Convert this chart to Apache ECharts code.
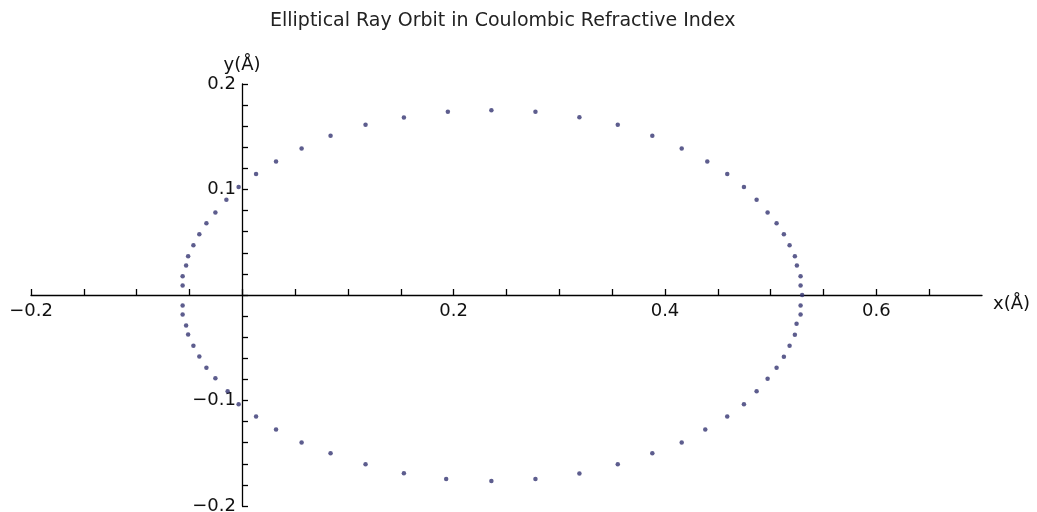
<!DOCTYPE html>
<html>
<head>
<meta charset="utf-8">
<script src="https://cdn.jsdelivr.net/npm/echarts@6/dist/echarts.min.js"></script>
<style>
html,body{margin:0;padding:0;background:#fff;}
#chart{width:1037px;height:512px;}
</style>
</head>
<body>
<div id="chart"></div>
<script>
const titleText = 'Elliptical Ray Orbit in Coulombic Refractive Index';
const upperX = [-0.0565,-0.0565,-0.0532,-0.0513,-0.0463,-0.0407,-0.0340,-0.0255,-0.0151,-0.0035,0.0130,0.0319,0.0561,0.0835,0.1166,0.1529,0.1945,0.2357,0.2774,0.3190,0.3553,0.3880,0.4158,0.4400,0.4589,0.4747,0.4867,0.4971,0.5056,0.5125,0.5179,0.5229,0.5248,0.5283,0.5283,0.5298];
const upperY = [0.0090,0.0178,0.0279,0.0367,0.0471,0.0575,0.0679,0.0783,0.0904,0.1024,0.1147,0.1266,0.1389,0.1509,0.1613,0.1682,0.1736,0.1752,0.1736,0.1686,0.1613,0.1509,0.1389,0.1266,0.1147,0.1024,0.0904,0.0783,0.0679,0.0575,0.0471,0.0367,0.0279,0.0178,0.0090,0.0000];
const lowerX = [-0.0565,-0.0565,-0.0532,-0.0513,-0.0463,-0.0407,-0.0340,-0.0255,-0.0139,-0.0035,0.0130,0.0319,0.0561,0.0835,0.1166,0.1529,0.1929,0.2357,0.2774,0.3190,0.3553,0.3880,0.4158,0.4381,0.4589,0.4747,0.4867,0.4971,0.5056,0.5125,0.5179,0.5229,0.5245,0.5283,0.5283];
const lowerY = [-0.0099,-0.0184,-0.0289,-0.0374,-0.0481,-0.0582,-0.0689,-0.0790,-0.0913,-0.1036,-0.1152,-0.1275,-0.1398,-0.1500,-0.1604,-0.1689,-0.1743,-0.1762,-0.1743,-0.1692,-0.1604,-0.1500,-0.1398,-0.1275,-0.1152,-0.1036,-0.0913,-0.0793,-0.0689,-0.0585,-0.0481,-0.0376,-0.0272,-0.0184,-0.0099];
const xLabelValues = [-0.2, 0.2, 0.4, 0.6];
const yLabelValues = [-0.2, -0.1, 0.1, 0.2];
const xTickValues = [-0.2,-0.15,-0.1,-0.05,0,0.05,0.1,0.15,0.2,0.25,0.3,0.35,0.4,0.45,0.5,0.55,0.6,0.65];
const yTickValues = [-0.2,-0.18,-0.16,-0.14,-0.12,-0.1,-0.08,-0.06,-0.04,-0.02,0,0.02,0.04,0.06,0.08,0.1,0.12,0.14,0.16,0.18,0.2];

const points = upperX.map((x, i) => [x, upperY[i]]).concat(lowerX.map((x, i) => [x, lowerY[i]]));

function fmt(v) {
  const s = Math.abs(v).toFixed(1);
  return v < 0 ? '\u2212' + s : s;
}

const FONT = 'DejaVu Sans';
const chart = echarts.init(document.getElementById('chart'), null, {renderer: 'canvas'});
chart.setOption({
  animation: false,
  backgroundColor: '#ffffff',
  title: {
    text: titleText,
    left: 270,
    top: 12,
    padding: 0,
    textStyle: {fontFamily: FONT, fontSize: 19, fontWeight: 'normal', color: '#222'}
  },
  grid: {left: 31, right: 55, top: 84, bottom: 6, containLabel: false, outerBoundsMode: 'none'},
  xAxis: {
    type: 'value',
    position: 'bottom',
    offset: -211,
    min: -0.2,
    max: 0.7,
    interval: 0.05,
    name: 'x(\u00C5)',
    nameLocation: 'end',
    nameGap: 11,
    nameTextStyle: {fontFamily: FONT, fontSize: 18, color: '#111', verticalAlign: 'top'},
    axisLine: {onZero: false, lineStyle: {color: '#000', width: 1.3}},
    axisTick: {show: true, inside: true, length: 6, customValues: xTickValues, lineStyle: {color: '#000', width: 1.3}},
    axisLabel: {customValues: xLabelValues, formatter: fmt, margin: 7, fontFamily: FONT, fontSize: 18, color: '#111'},
    splitLine: {show: false}
  },
  yAxis: {
    type: 'value',
    position: 'left',
    offset: -211,
    min: -0.2,
    max: 0.2,
    interval: 0.02,
    name: 'y(\u00C5)',
    nameLocation: 'end',
    nameGap: 10,
    nameTextStyle: {fontFamily: FONT, fontSize: 18, color: '#111', align: 'center'},
    axisLine: {onZero: false, lineStyle: {color: '#000', width: 1.3}},
    axisTick: {show: true, inside: true, length: 6, customValues: yTickValues, lineStyle: {color: '#000', width: 1.3}},
    axisLabel: {customValues: yLabelValues, formatter: fmt, margin: 6, fontFamily: FONT, fontSize: 18, color: '#111'},
    splitLine: {show: false}
  },
  series: [{
    type: 'scatter',
    data: points,
    symbol: 'circle',
    symbolSize: 4.5,
    itemStyle: {color: '#343472'},
    z: 3
  }]
});
</script>
</body>
</html>
